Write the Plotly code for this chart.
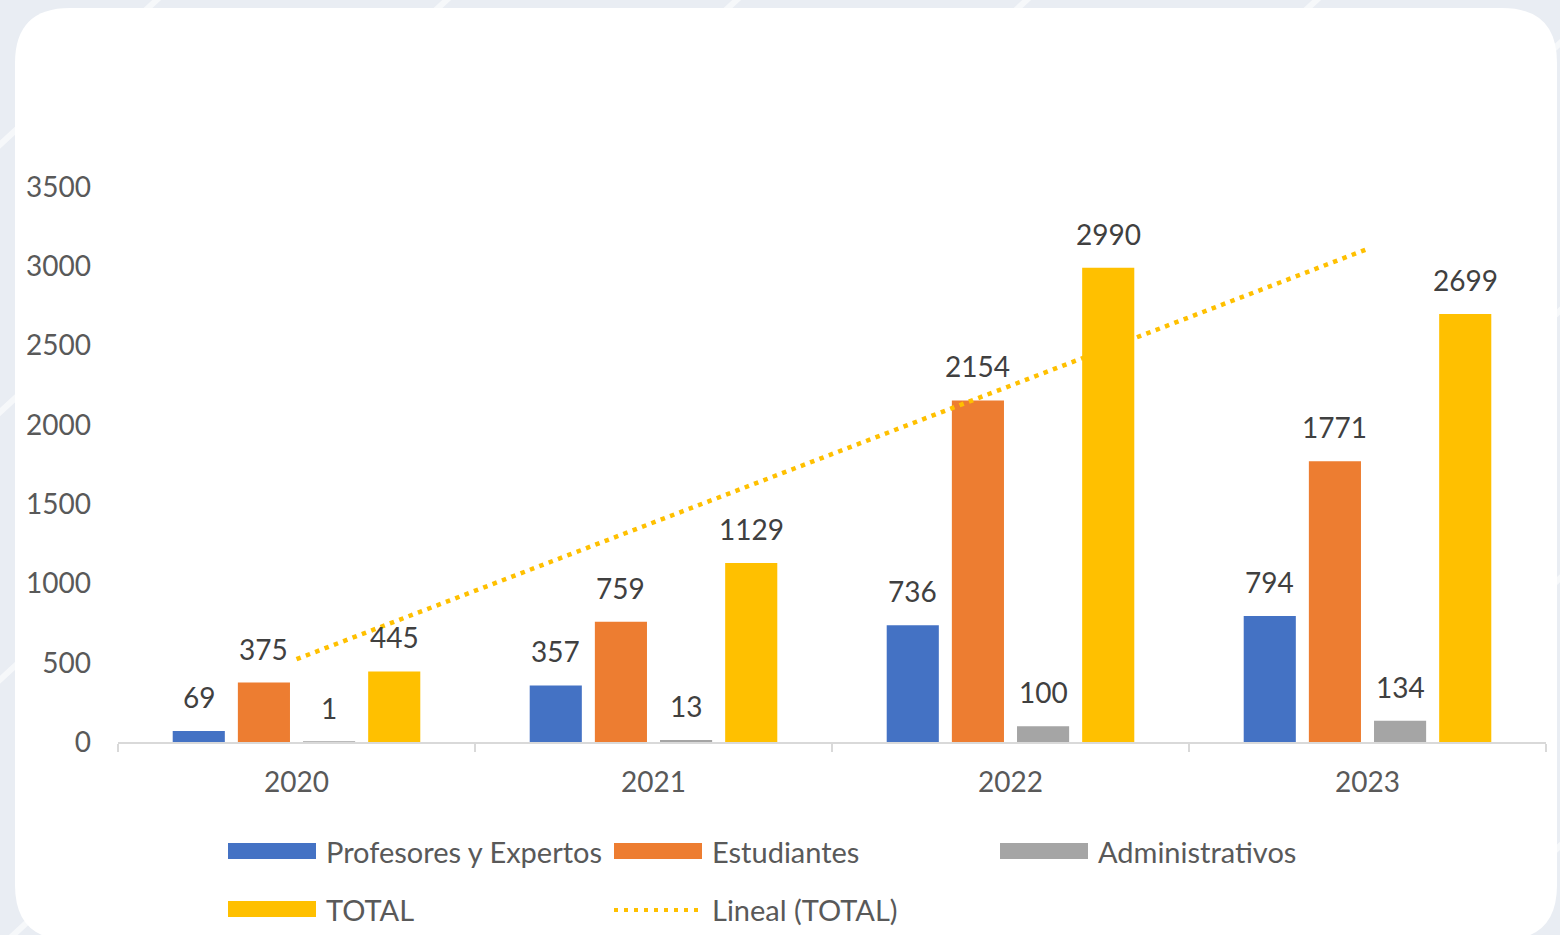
import numpy as np
import plotly.graph_objects as go

# data
years = ["2020", "2021", "2022", "2023"]
profesores = [69, 357, 736, 794]
estudiantes = [375, 759, 2154, 1771]
administrativos = [1, 13, 100, 134]
total = [445, 1129, 2990, 2699]
series_names = ["Profesores y Expertos", "Estudiantes", "Administrativos", "TOTAL"]
colors = ["#4472C4", "#ED7D31", "#A5A5A5", "#FFC000"]
y_ticks = [0, 500, 1000, 1500, 2000, 2500, 3000, 3500]
trend_name = "Lineal (TOTAL)"

W, H = 1560, 935
X0, X1 = 118, 1546          # plot area in px
Y_ZERO, Y_TOP_TICK = 742, 187
Y_MAX = 4300
BARGAP, GROUPGAP = 0.27, 0.2
FONT = "Lato"


def px(x):
    return x / W


def py(y):
    return 1 - y / H


unit = (Y_ZERO - Y_TOP_TICK) / y_ticks[-1]
top_px = Y_ZERO - Y_MAX * unit

fig = go.Figure()
all_series = [profesores, estudiantes, administrativos, total]
for name, vals, col in zip(series_names, all_series, colors):
    fig.add_trace(go.Bar(x=years, y=vals, name=name, marker_color=col,
                         marker_line_width=0, showlegend=False, hoverinfo="skip"))

# linear trend of TOTAL
idx = np.arange(1, len(total) + 1)
slope, icpt = np.polyfit(idx, total, 1)
fig.add_trace(go.Scatter(x=years, y=slope * idx + icpt, mode="lines", name=trend_name,
                         line=dict(color="#FFC000", width=4.5, dash="4.5px,5.5px"), showlegend=False,
                         hoverinfo="skip"))

# data labels (x given as category index)
cat_w = (X1 - X0) / len(years)
slot = cat_w * (1 - BARGAP) / len(all_series)
annotations = []
for k, vals in enumerate(all_series):
    for i, v in enumerate(vals):
        annotations.append(dict(x=i, y=v, xref="x", yref="y", text=str(v), showarrow=False,
                                xshift=(k - 1.5) * slot, yanchor="bottom", yshift=15,
                                font=dict(family=FONT, size=28, color="#404040")))

# manual legend
shapes = []
legend_items = [(228, 851, 0), (614, 851, 1), (1000, 851, 2), (228, 909, 3)]
for lx, ly, k in legend_items:
    shapes.append(dict(type="rect", xref="paper", yref="paper", x0=px(lx), x1=px(lx + 88),
                       y0=py(ly + 8), y1=py(ly - 8), fillcolor=colors[k], line_width=0))
    annotations.append(dict(x=px(lx + 96), y=py(ly), xref="paper", yref="paper", text=series_names[k],
                            showarrow=False, xanchor="left", yanchor="middle",
                            font=dict(family=FONT, size=29, color="#595959")))
shapes.append(dict(type="line", xref="paper", yref="paper", x0=px(614), x1=px(702),
                   y0=py(910), y1=py(910), line=dict(color="#FFC000", width=4, dash="4px,6px")))
annotations.append(dict(x=px(710), y=py(909), xref="paper", yref="paper", text=trend_name,
                        showarrow=False, xanchor="left", yanchor="middle",
                        font=dict(family=FONT, size=29, color="#595959")))

# page background stripes and white card
bg_shapes = []
for off in range(-900, 1700, 290):
    bg_shapes.append(dict(type="line", xref="paper", yref="paper", layer="below",
                          x0=px(off), y0=py(H + 40), x1=px(off + 1100), y1=py(-40),
                          line=dict(color="rgba(255,255,255,0.6)", width=6)))
cx0, cy0, cx1, cy1, r = 15, 8, 1557, 940, 55
pts = [("M", cx0 + r, cy0), ("L", cx1 - r, cy0), ("Q", cx1, cy0, cx1, cy0 + r),
       ("L", cx1, cy1 - r), ("Q", cx1, cy1, cx1 - r, cy1), ("L", cx0 + r, cy1),
       ("Q", cx0, cy1, cx0, cy1 - r), ("L", cx0, cy0 + r), ("Q", cx0, cy0, cx0 + r, cy0)]
path = ""
for p in pts:
    coords = p[1:]
    s = " ".join(f"{px(coords[i]):.5f},{py(coords[i + 1]):.5f}" for i in range(0, len(coords), 2))
    path += f"{p[0]} {s} "
bg_shapes.append(dict(type="path", path=path + "Z", xref="paper", yref="paper", layer="below",
                      fillcolor="white", line_width=0))

fig.update_layout(
    width=W, height=H, margin=dict(l=0, r=0, t=0, b=0, autoexpand=False),
    paper_bgcolor="#E9EDF3", plot_bgcolor="rgba(0,0,0,0)",
    barmode="group", bargap=BARGAP, bargroupgap=GROUPGAP,
    font=dict(family=FONT, size=28, color="#595959"),
    shapes=bg_shapes + shapes, annotations=annotations,
    xaxis=dict(type="category", range=[-0.5, len(years) - 0.5], automargin=False,
               domain=[px(X0), px(X1)], showline=True, linecolor="#D9D9D9", linewidth=2,
               ticks="outside", tickson="boundaries", ticklen=8, tickcolor="#D9D9D9", tickwidth=2,
               showgrid=False, ticklabelstandoff=14, tickangle=0, layer="above traces",
               tickfont=dict(size=28, color="#595959")),
    yaxis=dict(domain=[py(Y_ZERO), py(top_px)], range=[0, Y_MAX], tickvals=y_ticks, automargin=False,
               showgrid=False, zeroline=False, showline=False, ticklabelstandoff=26,
               tickfont=dict(size=28, color="#595959")),
)

fig.write_html("out.html", config={"displayModeBar": False},
               post_script="document.body.style.margin='0';document.body.style.overflow='hidden';")
